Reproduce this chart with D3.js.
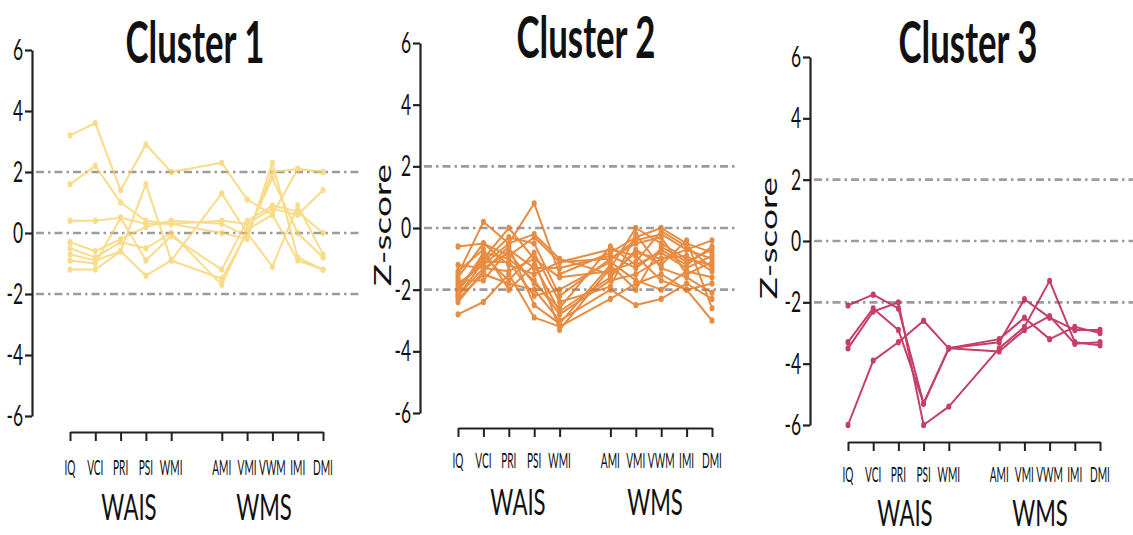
<!DOCTYPE html>
<html>
<head>
<meta charset="utf-8">
<script src="https://cdn.jsdelivr.net/npm/d3@7"></script>
<style>
  html, body { margin: 0; padding: 0; background: #fff; }
  svg { display: block; font-family: Lato, "Open Sans", sans-serif; }
</style>
</head>
<body>
<svg id="chart" width="1133" height="535"></svg>
<script>
// Index scores (WAIS / WMS) and their grouping
const categories = ["IQ", "VCI", "PRI", "PSI", "WMI", "AMI", "VMI", "VWM", "IMI", "DMI"];
const waisIndices = ["IQ", "VCI", "PRI", "PSI", "WMI"];
const wmsIndices = ["AMI", "VMI", "VWM", "IMI", "DMI"];
const yTicks = [6, 4, 2, 0, -2, -4, -6];
const refLines = [2, 0, -2];
const titles = ["Cluster 1", "Cluster 2", "Cluster 3"];

// Z-score profiles per participant, one row per person, in category order
const cluster1 = [
  [3.2, 3.6, 1.4, 2.9, 2.0, 2.3, 1.1, 0.6, 2.1, 2.0],
  [1.6, 2.2, 1.0, 0.4, 0.3, 0.0, -0.2, 2.3, -0.8, -1.2],
  [0.4, 0.4, 0.5, 0.3, 0.3, 0.4, 0.3, 0.8, 0.6, 1.4],
  [-0.7, -0.9, -0.6, 1.6, -0.9, -1.5, 0.0, 1.8, 0.0, -0.8],
  [-1.2, -1.2, -0.6, -1.4, -0.9, 1.3, 0.0, -1.1, 0.9, -0.7],
  [-0.5, -0.8, -0.3, -0.5, 0.0, -1.7, 0.1, 0.6, -0.9, -1.2],
  [-0.9, -1.0, 0.5, -0.9, -0.1, -1.2, 0.4, 0.9, 0.7, 0.0],
  [-0.3, -0.6, -0.2, 0.2, 0.4, 0.3, -0.1, 2.0, 2.1, 2.0]
];
const cluster2 = [
  [-0.6, -0.5, -0.9, -0.3, -1.1, -1.0, -0.4, -0.2, -0.7, -0.4],
  [-1.5, 0.2, -0.5, 0.8, -1.5, -0.8, -0.3, 0.0, -0.5, -0.8],
  [-2.0, -1.0, 0.0, -1.0, -3.3, -1.3, 0.0, -0.5, -1.0, -1.2],
  [-2.2, -1.3, -0.8, -1.8, -2.6, -0.6, -1.2, -0.8, -1.3, -0.9],
  [-2.8, -2.4, -1.5, -2.9, -3.2, -2.3, -1.8, -1.5, -2.0, -3.0],
  [-1.8, -1.2, -0.5, -0.2, -1.0, -1.5, -0.8, -1.0, -0.7, -1.0],
  [-2.3, -1.5, -1.8, -2.0, -3.0, -2.0, -2.5, -2.3, -1.8, -2.3],
  [-1.9, -1.1, -0.3, -0.5, -2.2, -1.0, -0.5, -0.3, -1.5, -1.1],
  [-2.1, -0.8, -1.0, -1.7, -2.8, -1.7, -1.5, -1.0, -0.9, -1.4],
  [-1.6, -0.5, -1.2, -1.5, -1.1, -0.7, -0.9, -1.7, -2.0, -1.8],
  [-2.4, -1.4, -0.6, -2.5, -3.1, -1.2, -2.0, -0.6, -1.1, -0.7],
  [-1.2, -1.3, -1.4, -1.0, -1.6, -1.4, -1.1, -0.1, -0.6, -1.3],
  [-2.0, -0.9, -1.7, -0.8, -2.4, -1.9, -0.2, -1.3, -1.6, -2.1],
  [-1.7, -1.7, -0.7, -1.3, -1.3, -0.9, -1.3, -0.7, -1.2, -0.6],
  [-2.2, -1.1, -1.1, -2.2, -2.0, -1.1, -1.7, -2.0, -1.4, -1.6],
  [-1.4, -0.7, -2.0, -1.2, -2.7, -1.6, -0.7, -1.2, -0.4, -2.6]
];
const cluster3 = [
  [-3.3, -2.2, -2.9, -5.3, -3.5, -3.2, -2.5, -3.2, -2.8, -3.0],
  [-3.5, -2.3, -2.0, -6.0, -5.4, -3.5, -2.8, -1.3, -3.3, -3.4],
  [-2.1, -1.75, -2.2, -5.3, -3.5, -3.3, -1.9, -2.5, -2.9, -2.9],
  [-6.0, -3.9, -3.3, -2.6, -3.5, -3.6, -2.9, -2.45, -3.35, -3.3]
];

// Panel layout and styling
const SQ = 0.6; // horizontal text compression
const panels = [
  { data: cluster1, color: "#f6cf5c", opacity: 0.72, axisX: 32, yTop: 50, yBot: 416, xAxisY: 432,
    x0: 70, x1: 323, refEnd: 362, titleX: 195, titleY: 63, tickLabelY: 475, groupY: 520,
    waisX: 129, wmsX: 264, zLabel: null },
  { data: cluster2, color: "#e3741a", opacity: 0.82, axisX: 420, yTop: 43, yBot: 413, xAxisY: 428,
    x0: 458, x1: 712, refEnd: 738, titleX: 586, titleY: 58, tickLabelY: 468, groupY: 515,
    waisX: 518, wmsX: 655, zLabel: { x: 391, y: 225 } },
  { data: cluster3, color: "#bf2552", opacity: 0.88, axisX: 810, yTop: 57, yBot: 425, xAxisY: 442,
    x0: 848, x1: 1100, refEnd: 1133, titleX: 968, titleY: 63, tickLabelY: 482, groupY: 526,
    waisX: 905, wmsX: 1040, zLabel: { x: 777, y: 238 } }
];

const svg = d3.select("#chart");
svg.append("rect").attr("width", 1133).attr("height", 535).attr("fill", "#fff");

function squeezedText(g, x, y, text, size, weight, anchor, rotate, sq) {
  return g.append("text")
    .attr("transform", `translate(${x},${y}) scale(${sq || SQ},1)` + (rotate ? ` rotate(${rotate})` : ""))
    .attr("text-anchor", anchor)
    .attr("font-size", size)
    .attr("font-weight", weight)
    .attr("fill", "#111")
    .text(text);
}

panels.forEach((p, i) => {
  const g = svg.append("g");

  const y = d3.scaleLinear().domain([-6, 6]).range([p.yBot, p.yTop]);
  // a blank slot separates the WAIS and WMS indices
  const x = d3.scalePoint().domain([...waisIndices, "gap", ...wmsIndices]).range([p.x0, p.x1]);

  // reference lines at ±2 and 0
  g.selectAll("line.ref").data(refLines).join("line")
    .attr("class", "ref")
    .attr("x1", p.axisX + 4).attr("x2", p.refEnd)
    .attr("y1", d => y(d)).attr("y2", d => y(d))
    .attr("stroke", "#9c9c9c").attr("stroke-width", 2.6)
    .attr("stroke-dasharray", "8,4,2.5,4");

  // y axis
  const yAxis = d3.axisLeft(y).tickValues(yTicks).tickSize(7).tickSizeOuter(0).tickFormat(() => "");
  const ya = g.append("g").attr("transform", `translate(${p.axisX},0)`).call(yAxis);
  ya.select(".domain").attr("stroke", "#222").attr("stroke-width", 2.2);
  ya.selectAll(".tick line").attr("stroke", "#222").attr("stroke-width", 2.2);
  yTicks.forEach(t => squeezedText(g, p.axisX - 9, y(t) + 10, t < 0 ? "-" + Math.abs(t) : String(t), 29, 400, "end"));

  // x axis
  const xAxis = d3.axisBottom(x).tickValues(categories).tickSize(9).tickSizeOuter(0).tickFormat(() => "");
  const xa = g.append("g").attr("transform", `translate(0,${p.xAxisY})`).call(xAxis);
  xa.select(".domain").attr("stroke", "#222").attr("stroke-width", 2.2);
  xa.selectAll(".tick line").attr("stroke", "#222").attr("stroke-width", 2);
  categories.forEach(c => squeezedText(g, x(c), p.tickLabelY, c, 22, 400, "middle", null, 0.46));

  squeezedText(g, p.waisX, p.groupY, "WAIS", 37, 400, "middle");
  squeezedText(g, p.wmsX, p.groupY, "WMS", 37, 400, "middle");

  // title
  squeezedText(g, p.titleX, p.titleY, titles[i], 58, 700, "middle");

  if (p.zLabel) squeezedText(g, p.zLabel.x, p.zLabel.y, "Z-score", 37, 400, "middle", -90);

  // profiles
  const line = d3.line().x((d, k) => x(categories[k])).y(d => y(d));
  const lg = g.append("g").attr("opacity", p.opacity);
  lg.selectAll("path").data(p.data).join("path")
    .attr("d", line)
    .attr("fill", "none")
    .attr("stroke", p.color)
    .attr("stroke-width", 2)
    .attr("stroke-linejoin", "round");
  p.data.forEach(row => {
    lg.append("g").selectAll("ellipse").data(row).join("ellipse")
      .attr("cx", (d, k) => x(categories[k]))
      .attr("cy", d => y(d))
      .attr("rx", 2.5).attr("ry", 3.2)
      .attr("fill", p.color);
  });
});
</script>
</body>
</html>
